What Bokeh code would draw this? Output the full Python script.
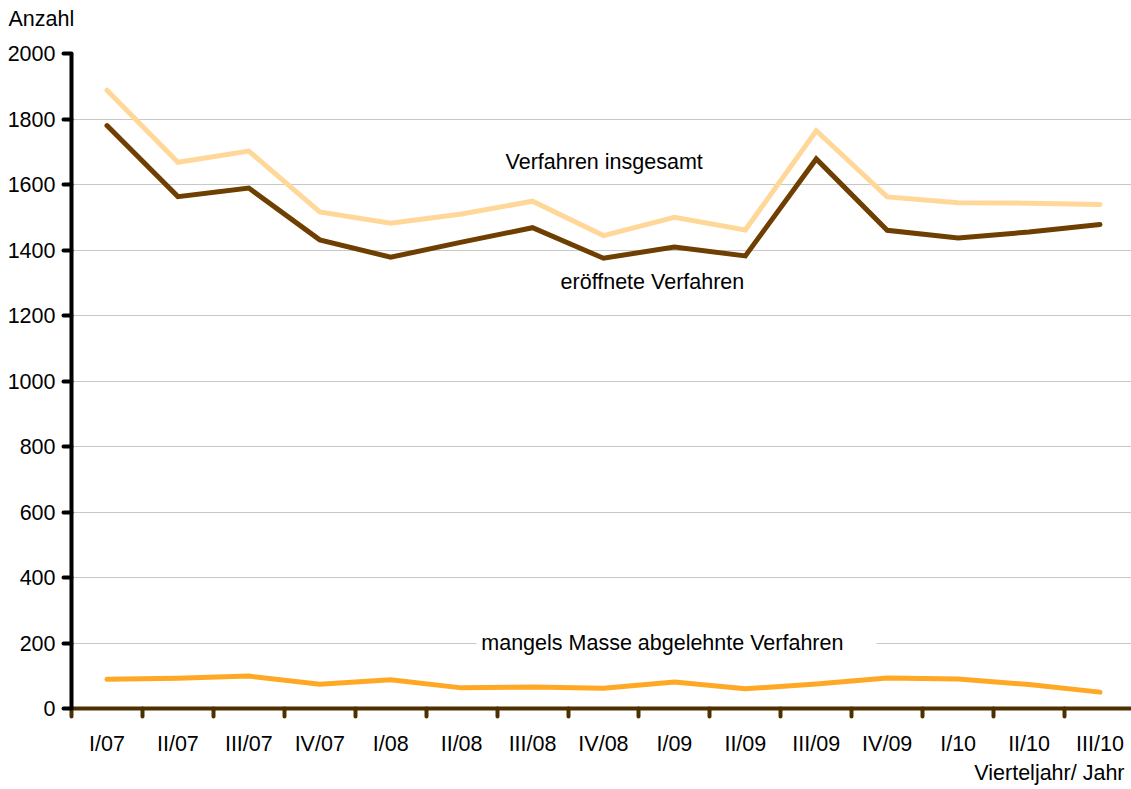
from bokeh.plotting import figure
from bokeh.models import (Range1d, FixedTicker, Label, BoxAnnotation, ColumnDataSource, Title)
from bokeh.embed import file_html
from bokeh.resources import INLINE

categories = ["I/07", "II/07", "III/07", "IV/07", "I/08", "II/08", "III/08", "IV/08",
              "I/09", "II/09", "III/09", "IV/09", "I/10", "II/10", "III/10"]
insgesamt = [1888, 1668, 1702, 1516, 1482, 1510, 1549, 1444, 1500, 1461, 1764, 1562, 1544, 1543, 1539]
eroeffnet = [1780, 1563, 1589, 1431, 1378, 1424, 1468, 1375, 1409, 1382, 1678, 1460, 1437, 1455, 1478]
mangels = [89, 92, 99, 74, 88, 63, 66, 62, 81, 60, 75, 93, 90, 73, 50]
y_ticks = [0, 200, 400, 600, 800, 1000, 1200, 1400, 1600, 1800, 2000]

FONT = "Liberation Sans"
FS = "21.5px"

xs = [i + 0.5 for i in range(len(categories))]
src = ColumnDataSource(dict(x=xs, ins=insgesamt, er=eroeffnet, ma=mangels))

W, H = 1131, 789
p = figure(width=W, height=H, output_backend="svg", toolbar_location=None,
           x_range=Range1d(0, 1060 / 70.93), y_range=Range1d(0, 2000),
           min_border_left=71, min_border_right=0, min_border_top=53, min_border_bottom=81)
p.outline_line_color = None
p.background_fill_color = "white"

p.line("x", "ins", source=src, line_color="#ffd899", line_width=5, line_cap="round", line_join="miter")
p.line("x", "er", source=src, line_color="#6e3f00", line_width=5, line_cap="round", line_join="miter")
p.line("x", "ma", source=src, line_color="#ffa824", line_width=5, line_cap="round", line_join="miter")

# x axis
xa = p.xaxis[0]
xa.ticker = FixedTicker(ticks=xs, minor_ticks=list(range(len(categories) + 1)))
xa.major_label_overrides = {x: c for x, c in zip(xs, categories)}
xa.major_tick_line_color = None
xa.major_tick_out = 8
xa.major_tick_in = 0
xa.minor_tick_line_color = "#4d3000"
xa.minor_tick_line_width = 4
xa.minor_tick_line_cap = "round"
xa.minor_tick_out = 8
xa.minor_tick_in = 0
xa.axis_line_color = "#4d3000"
xa.axis_line_width = 4
xa.major_label_text_font = FONT
xa.major_label_text_font_size = FS
xa.major_label_text_color = "black"
xa.major_label_standoff = 15

# y axis
ya = p.yaxis[0]
ya.ticker = FixedTicker(ticks=y_ticks, minor_ticks=[])
ya.axis_line_color = "black"
ya.axis_line_width = 4
ya.major_tick_line_color = "black"
ya.major_tick_line_width = 4
ya.major_tick_line_cap = "round"
ya.major_tick_out = 8
ya.major_tick_in = 0
ya.minor_tick_line_color = None
ya.major_label_text_font = FONT
ya.major_label_text_font_size = FS
ya.major_label_text_color = "black"
ya.major_label_standoff = 8

p.xgrid.grid_line_color = None
p.ygrid.ticker = FixedTicker(ticks=y_ticks[1:])
p.ygrid.grid_line_color = "#c8c8c8"
p.ygrid.grid_line_width = 1

# white box behind bottom series label
p.add_layout(BoxAnnotation(left=5.71, right=11.35, bottom=170, top=232,
                           fill_color="white", fill_alpha=1.0, line_color=None))

def lab(x, y, t, align="center"):
    p.add_layout(Label(x=x, y=y, text=t, text_font=FONT, text_font_size=FS,
                       text_align=align, text_baseline="middle", text_color="black"))

lab(7.51, 1670, "Verfahren insgesamt")
lab(8.19, 1301, "eröffnete Verfahren")
lab(8.33, 201, "mangels Masse abgelehnte Verfahren")

p.title = Title(text="Anzahl\n ", align="left", offset=-63, standoff=-2, vertical_align="bottom",
                text_font=FONT, text_font_size=FS, text_font_style="normal",
                text_color="black")
p.add_layout(Title(text="Vierteljahr/ Jahr", align="right", offset=7, standoff=0,
                   text_font=FONT, text_font_size=FS, text_font_style="normal",
                   text_color="black"), "below")

open("out.html", "w").write(file_html(p, INLINE))
